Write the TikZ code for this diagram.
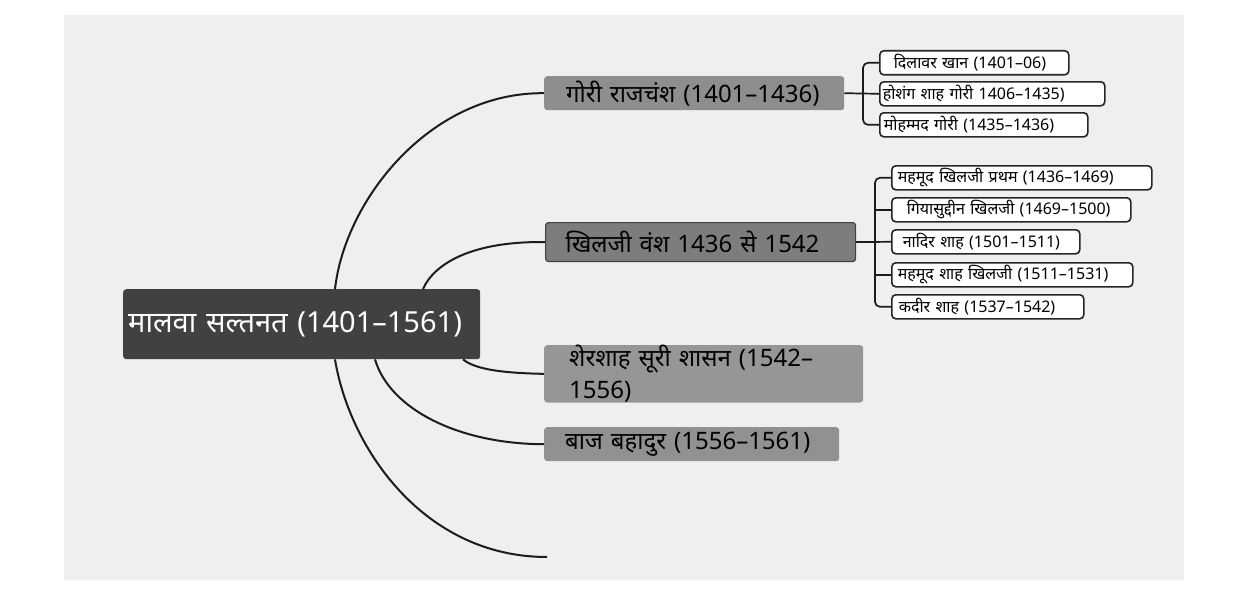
\documentclass[tikz,border=0pt]{standalone}
\usepackage{fontspec}
\newfontfamily\dev[Script=Devanagari]{Noto Sans}
\definecolor{panel}{HTML}{EFEFEF}
\definecolor{rootc}{HTML}{414141}
\definecolor{goric}{HTML}{8E8E8E}
\definecolor{khilc}{HTML}{7D7D7D}
\definecolor{sherc}{HTML}{969696}
\definecolor{bazc}{HTML}{919191}
\definecolor{edgec}{HTML}{1C1C1C}
\begin{document}
\begin{tikzpicture}[x=1pt,y=-1pt,
  base/.style={anchor=north west, inner ysep=0pt, align=left, font=\dev},
  rootbox/.style={base, fill=rootc, text=white, rounded corners=3pt, font=\dev\fontsize{29}{34}\selectfont, minimum height=70pt},
  lonebox/.style={base, rounded corners=3pt, font=\dev\fontsize{24}{32}\selectfont},
  leafbox/.style={base, fill=white, draw=black!85, line width=1.6pt, rounded corners=4pt, font=\dev\fontsize{16}{19}\selectfont, minimum height=24pt},
  link/.style={line width=2pt, draw=edgec},
  brk/.style={line width=1.7pt, draw=edgec, rounded corners=5pt},
]
\useasboundingbox (0,0) rectangle (1258,594);
\fill[white] (0,0) rectangle (1258,594);
\fill[panel] (64,15) rectangle (1184,580);

% root
\node[rootbox, text width=347pt, inner xsep=5pt] (root) at (123,289) {मालवा सल्तनत (1401–1561)};

% level 1
\node[lonebox, fill=goric, text width=256pt, inner xsep=22pt, minimum height=34pt] (gori) at (544,76) {गोरी राजचंश (1401–1436)};
\node[lonebox, fill=khilc, draw=black!75, line width=1.2pt, text width=270pt, inner xsep=20pt, minimum height=39pt] (khil) at (545,222) {खिलजी वंश 1436 से 1542};
\node[lonebox, fill=sherc, text width=269pt, inner xsep=25pt, minimum height=56pt] (sher) at (544,345) {शेरशाह सूरी शासन (1542–\\1556)};
\node[lonebox, fill=bazc, text width=253pt, inner xsep=21pt, minimum height=34pt] (baz) at (544,427) {बाज बहादुर (1556–1561)};

% leaves of Gori
\node[leafbox, text width=161pt, inner xsep=14pt] (dil) at (879,50) {\mbox{दिलावर खान (1401–06)}};
\node[leafbox, text width=219pt, inner xsep=3pt] (hos) at (879,81) {\mbox{होशंग शाह गोरी 1406–1435)}};
\node[leafbox, text width=200pt, inner xsep=4pt] (moh) at (879,112) {\mbox{मोहम्मद गोरी (1435–1436)}};

% leaves of Khilji
\node[leafbox, text width=248pt, inner xsep=6pt] (mk) at (891,165) {\mbox{महमूद खिलजी प्रथम (1436–1469)}};
\node[leafbox, text width=209pt, inner xsep=15pt] (gk) at (891,197) {\mbox{गियासुद्दीन खिलजी (1469–1500)}};
\node[leafbox, text width=166pt, inner xsep=11pt] (ns) at (891,229) {\mbox{नादिर शाह (1501–1511)}};
\node[leafbox, text width=229pt, inner xsep=6pt] (ms) at (891,262) {\mbox{महमूद शाह खिलजी (1511–1531)}};
\node[leafbox, text width=178pt, inner xsep=7pt] (ks) at (891,294) {\mbox{कदीर शाह (1537–1542)}};

% root connectors
\coordinate (tail) at (547,557);
\draw[link] ([xshift=212pt]root.north west) .. controls (345,200) and (430,92) .. (gori.west);
\draw[link] ([xshift=300pt]root.north west) .. controls (435,262) and (475,241) .. (khil.west);
\draw[link] ([xshift=340pt]root.south west) .. controls (475,369) and (500,373) .. (sher.west);
\draw[link] ([xshift=252pt]root.south west) .. controls (390,410) and (460,444) .. (baz.west);
\draw[link] ([xshift=212pt]root.south west) .. controls (350,450) and (425,557) .. (tail);

% Gori bracket
\draw[brk] (gori.east) -- (hos.west);
\draw[brk] (dil.west) -- ++(-16,0) |- (moh.west);

% Khilji bracket
\draw[brk] (khil.east) -- (ns.west);
\draw[brk] (mk.west) -- ++(-16,0) |- (ks.west);
\draw[brk] (gk.west) -- ++(-16,0);
\draw[brk] (ms.west) -- ++(-16,0);
\end{tikzpicture}
\end{document}
